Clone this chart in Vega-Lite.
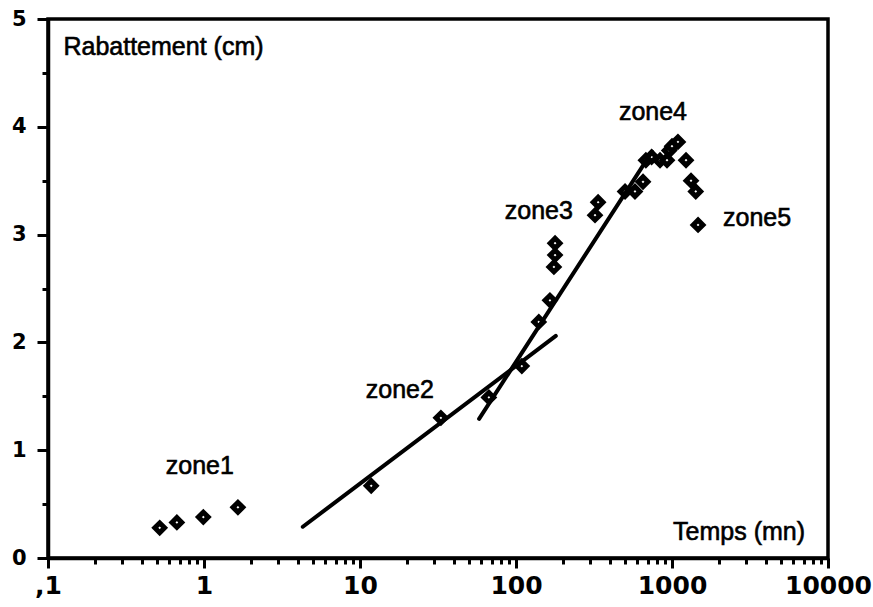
{
  "$schema": "https://vega.github.io/schema/vega-lite/v6.json",
  "width": 780,
  "height": 539,
  "autosize": {"type": "none"},
  "padding": {"left": 48, "top": 19, "right": 45, "bottom": 49},
  "background": "white",
  "config": {
    "view": {"stroke": "black", "strokeWidth": 3.5},
    "axis": {"grid": false, "domainColor": "black", "tickColor": "black", "labelColor": "black", "domainWidth": 3.5, "tickWidth": 3, "title": null}
  },
  "datasets": {
    "pts": [
      {"t": 0.52, "s": 0.28}, {"t": 0.67, "s": 0.33}, {"t": 0.99, "s": 0.38}, {"t": 1.65, "s": 0.47},
      {"t": 11.8, "s": 0.67}, {"t": 33, "s": 1.30}, {"t": 67, "s": 1.49}, {"t": 109, "s": 1.78},
      {"t": 140, "s": 2.19}, {"t": 165, "s": 2.39}, {"t": 175, "s": 2.70}, {"t": 178, "s": 2.81}, {"t": 178, "s": 2.92},
      {"t": 321, "s": 3.18}, {"t": 336, "s": 3.30},
      {"t": 500, "s": 3.40}, {"t": 579, "s": 3.40}, {"t": 652, "s": 3.49}, {"t": 680, "s": 3.69}, {"t": 740, "s": 3.72},
      {"t": 838, "s": 3.69}, {"t": 929, "s": 3.69}, {"t": 960, "s": 3.78}, {"t": 1000, "s": 3.82}, {"t": 1092, "s": 3.86},
      {"t": 1230, "s": 3.69}, {"t": 1324, "s": 3.50}, {"t": 1420, "s": 3.40}, {"t": 1469, "s": 3.09}
    ],
    "fits": [
      {"seg": "a", "t": 4.3, "s": 0.29}, {"seg": "a", "t": 180, "s": 2.06},
      {"seg": "b", "t": 58, "s": 1.29}, {"seg": "b", "t": 745, "s": 3.77}
    ],
    "labels": [
      {"t": 0.94, "s": 0.85, "label": "zone1"},
      {"t": 18, "s": 1.56, "label": "zone2"},
      {"t": 140, "s": 3.22, "label": "zone3"},
      {"t": 755, "s": 4.14, "label": "zone4"},
      {"t": 3510, "s": 3.15, "label": "zone5"},
      {"t": 0.55, "s": 4.74, "label": "Rabattement (cm)"},
      {"t": 2690, "s": 0.24, "label": "Temps (mn)"}
    ]
  },
  "resolve": {"axis": {"x": "independent", "y": "independent"}},
  "layer": [
    {
      "data": {"name": "pts"},
      "mark": {"type": "point", "shape": "diamond", "filled": false, "fill": "white", "stroke": "black", "strokeWidth": 5, "size": 95, "opacity": 1},
      "encoding": {
        "x": {"field": "t", "type": "quantitative", "scale": {"type": "log", "domain": [0.1, 10000], "nice": false},
          "axis": {"orient": "bottom", "values": [0.1, 1, 10, 100, 1000, 10000], "labelExpr": "datum.value < 0.5 ? ',1' : format(datum.value, 'd')", "tickSize": 10, "labelFont": "DejaVu Sans", "labelFontWeight": "bold", "labelFontSize": 25, "labelPadding": 5, "labelFlush": false, "labelOverlap": false, "labelBound": false}},
        "y": {"field": "s", "type": "quantitative", "scale": {"domain": [0, 5], "nice": false},
          "axis": {"orient": "left", "values": [0, 1, 2, 3, 4, 5], "format": "d", "tickSize": 11, "labelFont": "DejaVu Sans", "labelFontWeight": "bold", "labelFontSize": 21, "labelPadding": 11, "labelFlush": false, "labelOverlap": false, "labelBound": false}}
      }
    },
    {
      "data": {"name": "fits"},
      "mark": {"type": "line", "color": "black", "strokeWidth": 4, "strokeCap": "round"},
      "encoding": {
        "x": {"field": "t", "type": "quantitative",
          "axis": {"orient": "bottom", "values": [0.2,0.3,0.4,0.5,0.6,0.7,0.8,0.9,2,3,4,5,6,7,8,9,20,30,40,50,60,70,80,90,200,300,400,500,600,700,800,900,2000,3000,4000,5000,6000,7000,8000,9000], "labels": false, "domain": false, "tickSize": 6}},
        "y": {"field": "s", "type": "quantitative",
          "axis": {"orient": "left", "values": [0.5, 1.5, 2.5, 3.5, 4.5], "labels": false, "domain": false, "tickSize": 6}},
        "detail": {"field": "seg"}
      }
    },
    {
      "data": {"name": "labels"},
      "mark": {"type": "text", "font": "Liberation Sans", "fontSize": 25, "fill": "black", "stroke": "black", "strokeWidth": 0.6, "align": "center", "baseline": "middle"},
      "encoding": {
        "x": {"field": "t", "type": "quantitative", "axis": null},
        "y": {"field": "s", "type": "quantitative", "axis": null},
        "text": {"field": "label"}
      }
    }
  ]
}
